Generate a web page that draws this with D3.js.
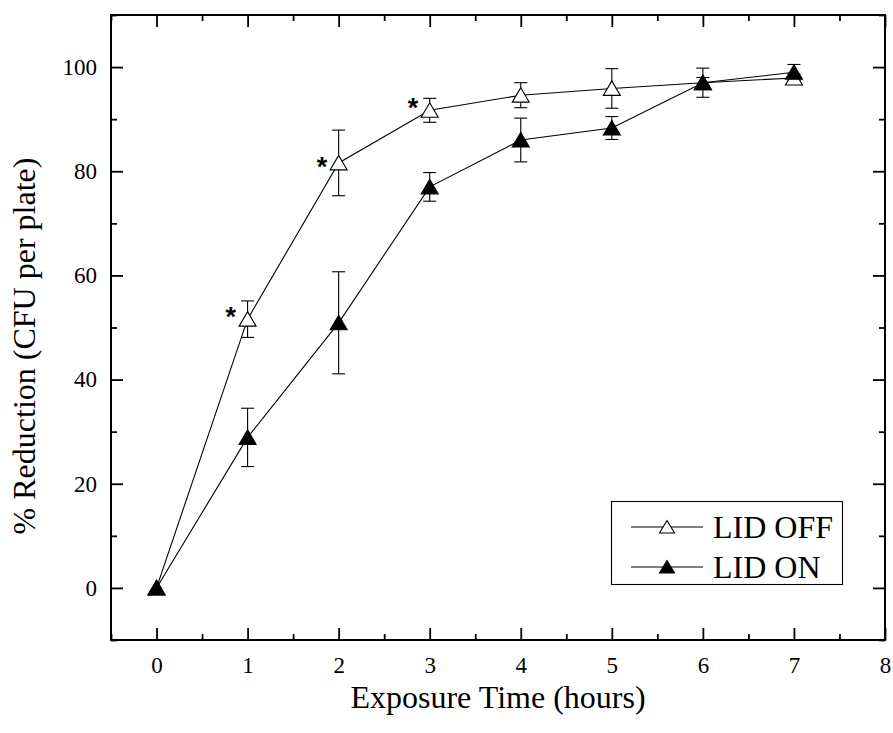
<!DOCTYPE html>
<html>
<head>
<meta charset="utf-8">
<script src="https://cdn.jsdelivr.net/npm/d3@7"></script>
<style>
  body { margin: 0; background: #fff; }
  svg { display: block; }
</style>
</head>
<body>
<svg id="chart" width="893" height="733"></svg>
<script>
// ---- data ----
const hours = [0, 1, 2, 3, 4, 5, 6, 7];
const lidOff = [0, 51.6, 81.6, 91.7, 94.6, 95.9, 97.0, 97.9];
const lidOffErr = [0, 3.5, 6.3, 2.3, 2.4, 3.8, 1.0, 0.8];
const lidOn = [0, 28.9, 50.9, 77.0, 86.0, 88.3, 97.0, 99.0];
const lidOnErr = [0, 5.6, 9.8, 2.75, 4.2, 2.2, 2.8, 1.5];
const significant = [1, 2, 3];
const seriesNames = ["LID OFF", "LID ON"];
const xTicks = [0, 1, 2, 3, 4, 5, 6, 7, 8];
const xMinor = [-0.5, 0.5, 1.5, 2.5, 3.5, 4.5, 5.5, 6.5, 7.5];
const yTicks = [0, 20, 40, 60, 80, 100];
const yMinor = [-10, 10, 30, 50, 70, 90, 110];
const xTitle = "Exposure Time (hours)";
const yTitle = "% Reduction (CFU per plate)";

const SERIF = '"Liberation Serif", "Times New Roman", Times, "DejaVu Serif", serif';

// ---- layout ----
const L = 111, R = 885, T = 15, B = 640;
const svg = d3.select("#chart");
const x = d3.scaleLinear().domain([-0.5, 8]).range([L, R]);
const y = d3.scaleLinear().domain([-10, 110]).range([B, T]);

function styleAxis(g) {
  g.attr("font-family", SERIF);
  g.select(".domain").remove();
  g.selectAll(".tick line").attr("stroke", "#000").attr("stroke-width", 1.8);
  g.selectAll(".tick text").attr("font-size", 23).attr("fill", "#000");
}

svg.append("g").attr("transform", `translate(0,${B})`)
  .call(d3.axisBottom(x).tickValues(xTicks).tickFormat(d3.format("d")).tickSizeInner(-12).tickSizeOuter(0).tickPadding(17))
  .call(styleAxis);
svg.append("g").attr("transform", `translate(${L},0)`)
  .call(d3.axisLeft(y).tickValues(yTicks).tickFormat(d3.format("d")).tickSizeInner(-12).tickSizeOuter(0).tickPadding(14))
  .call(styleAxis);
svg.append("g").attr("transform", `translate(0,${T})`)
  .call(d3.axisTop(x).tickValues(xTicks).tickFormat("").tickSizeInner(-12).tickSizeOuter(0))
  .call(styleAxis);
svg.append("g").attr("transform", `translate(${R},0)`)
  .call(d3.axisRight(y).tickValues(yTicks).tickFormat("").tickSizeInner(-12).tickSizeOuter(0))
  .call(styleAxis);
svg.append("g").attr("transform", `translate(0,${B})`)
  .call(d3.axisBottom(x).tickValues(xMinor).tickFormat("").tickSizeInner(-6).tickSizeOuter(0)).call(styleAxis);
svg.append("g").attr("transform", `translate(0,${T})`)
  .call(d3.axisTop(x).tickValues(xMinor).tickFormat("").tickSizeInner(-6).tickSizeOuter(0)).call(styleAxis);
svg.append("g").attr("transform", `translate(${L},0)`)
  .call(d3.axisLeft(y).tickValues(yMinor).tickFormat("").tickSizeInner(-6).tickSizeOuter(0)).call(styleAxis);
svg.append("g").attr("transform", `translate(${R},0)`)
  .call(d3.axisRight(y).tickValues(yMinor).tickFormat("").tickSizeInner(-6).tickSizeOuter(0)).call(styleAxis);

svg.append("rect").attr("x", L).attr("y", T).attr("width", R - L).attr("height", B - T)
  .attr("fill", "none").attr("stroke", "#000").attr("stroke-width", 2);

// titles
svg.append("text").attr("x", (L + R) / 2).attr("y", 708).attr("text-anchor", "middle")
  .attr("font-family", SERIF).attr("font-size", 32).text(xTitle);
svg.append("text").attr("transform", "translate(35,346) rotate(-90)").attr("text-anchor", "middle")
  .attr("font-family", SERIF).attr("font-size", 32).text(yTitle);

const series = [
  { name: seriesNames[0], vals: lidOff, errs: lidOffErr, fill: "#fff" },
  { name: seriesNames[1], vals: lidOn, errs: lidOnErr, fill: "#000" }
];
const line = d3.line().x((d, i) => x(hours[i])).y(d => y(d));
function tri(w, h) { return `M0,${-h * 0.52}L${w / 2},${h * 0.48}L${-w / 2},${h * 0.48}Z`; }

series.forEach(s => {
  svg.append("path").datum(s.vals).attr("d", line).attr("fill", "none")
    .attr("stroke", "#000").attr("stroke-width", 1.1);
});
series.forEach(s => {
  const g = svg.append("g").attr("stroke", "#000").attr("stroke-width", 1.1);
  hours.forEach((h, i) => {
    if (!s.errs[i]) return;
    const cx = x(h), y1 = y(s.vals[i] + s.errs[i]), y2 = y(s.vals[i] - s.errs[i]);
    g.append("line").attr("x1", cx).attr("x2", cx).attr("y1", y1).attr("y2", y2);
    g.append("line").attr("x1", cx - 6.5).attr("x2", cx + 6.5).attr("y1", y1).attr("y2", y1);
    g.append("line").attr("x1", cx - 6.5).attr("x2", cx + 6.5).attr("y1", y2).attr("y2", y2);
  });
});
series.forEach(s => {
  svg.append("g").selectAll("path").data(s.vals).join("path")
    .attr("transform", (d, i) => `translate(${x(hours[i])},${y(d)})`)
    .attr("d", tri(17, 14.5)).attr("fill", s.fill).attr("stroke", "#000").attr("stroke-width", 1.1);
});

// significance asterisks
svg.append("g").selectAll("text").data(significant).join("text")
  .attr("x", d => x(d) - 11.5)
  .attr("y", d => y(lidOff[hours.indexOf(d)]) + (d === 2 ? 13 : 7))
  .attr("text-anchor", "end").attr("font-size", 27).attr("font-weight", "bold")
  .attr("font-family", '"Liberation Sans", Arial, sans-serif').text("*");

// legend
const lg = svg.append("g");
lg.append("rect").attr("x", 611.5).attr("y", 501.5).attr("width", 231).attr("height", 83)
  .attr("fill", "#fff").attr("stroke", "#000").attr("stroke-width", 1.1);
series.forEach((s, i) => {
  const cy = 527 + i * 40;
  lg.append("line").attr("x1", 631).attr("x2", 703).attr("y1", cy).attr("y2", cy)
    .attr("stroke", "#000").attr("stroke-width", 1.1);
  lg.append("path").attr("transform", `translate(667,${cy})`).attr("d", tri(15, 12.5))
    .attr("fill", s.fill).attr("stroke", "#000").attr("stroke-width", 1.1);
  lg.append("text").attr("x", 713).attr("y", cy + 11).attr("font-size", 32)
    .attr("font-family", SERIF).text(s.name);
});
</script>
</body>
</html>
